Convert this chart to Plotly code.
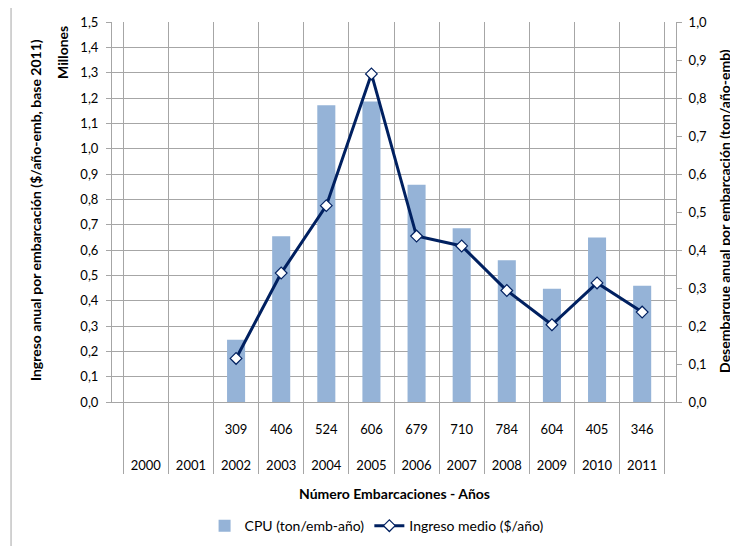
import plotly.graph_objects as go

# data
years = ["2000", "2001", "2002", "2003", "2004", "2005", "2006", "2007", "2008", "2009", "2010", "2011"]
boats = ["\u00a0", "\u00a0", "309", "406", "524", "606", "679", "710", "784", "604", "405", "346"]
cpu = [None, None, 0.164, 0.436, 0.781, 0.791, 0.572, 0.457, 0.373, 0.298, 0.433, 0.306]
ingreso = [None, None, 0.172, 0.509, 0.775, 1.295, 0.655, 0.616, 0.440, 0.305, 0.470, 0.355]

GRID = "#a6a6a6"
BAR = "#95b3d7"
LINE = "#002060"
FONT = "Lato"

# outer row sits lower than plotly's default spacing
year_labels = ["\u00a0<br>\u00a0<br>" + y for y in years]

fig = go.Figure()

# bars go on the base axis (drawn under the overlaid line)
fig.add_trace(go.Bar(
    x=[year_labels, boats], y=cpu, name="CPU (ton/emb-año)",
    marker=dict(color=BAR, line=dict(width=0)),
    yaxis="y", width=0.4,
))
fig.add_trace(go.Scatter(
    x=[year_labels, boats], y=ingreso, name="Ingreso medio ($/año)",
    mode="lines+markers", yaxis="y2",
    line=dict(color=LINE, width=3),
    marker=dict(symbol="diamond", size=9, color="white", line=dict(color=LINE, width=1.2)),
))

# page body adds an 8px offset, so the figure is 8px smaller than the window
fig.update_layout(
    width=730, height=538,
    margin=dict(l=104, r=62, t=14, b=144),
    paper_bgcolor="white", plot_bgcolor="white",
    font=dict(family=FONT, size=13, color="#000"),
    separators=",.",
    showlegend=True,
    legend=dict(orientation="h", x=0.47, xanchor="center", yref="container", y=0.037,
                yanchor="middle", font=dict(size=14), traceorder="normal", itemwidth=30),
    xaxis=dict(
        type="multicategory", tickson="boundaries", showgrid=True, gridcolor=GRID, gridwidth=1,
        showline=True, linecolor=GRID, ticks="", showdividers=True, dividercolor=GRID,
        dividerwidth=1, tickfont=dict(size=13), ticklabelstandoff=15, automargin=False,
    ),
    yaxis=dict(
        side="right", range=[0, 1.0], dtick=0.1, tickformat=".1f", showgrid=False,
        showline=True, linecolor=GRID, ticks="outside", ticklen=5, tickcolor=GRID,
        zeroline=False, tickfont=dict(size=13), ticklabelstandoff=4, automargin=False,
    ),
    yaxis2=dict(
        side="left", overlaying="y", range=[0, 1.5], dtick=0.1, tickformat=".1f",
        showgrid=True, gridcolor=GRID, gridwidth=1, showline=True, linecolor=GRID,
        ticks="outside", ticklen=5, tickcolor=GRID, zeroline=False, tickfont=dict(size=13),
        ticklabelstandoff=5, automargin=False,
    ),
)

fig.add_annotation(text="<b>Ingreso anual por embarcación ($/año-emb, base 2011)</b>",
                   xref="paper", yref="paper", x=-0.1365, y=0.505, textangle=-90,
                   showarrow=False, xanchor="center", yanchor="middle", font=dict(size=14))
fig.add_annotation(text="<b>Millones</b>", xref="paper", yref="paper", x=-0.0887, y=0.921,
                   textangle=-90, showarrow=False, xanchor="center", yanchor="middle",
                   font=dict(size=14))
fig.add_annotation(text="<b>Desembarque anual por embarcación (ton/año-emb)</b>",
                   xref="paper", yref="paper", x=1.087, y=0.503, textangle=-90,
                   showarrow=False, xanchor="center", yanchor="middle", font=dict(size=14))
fig.add_annotation(text="<b>Número Embarcaciones - Años</b>", xref="paper", yref="paper",
                   x=0.5, y=-0.2395, showarrow=False, xanchor="center", yanchor="middle",
                   font=dict(size=14))

# chart frame
fig.add_shape(type="rect", xref="paper", yref="paper", x0=-0.179, x1=1.2, y0=-0.5, y1=1.042,
              line=dict(color=GRID, width=1), fillcolor="rgba(0,0,0,0)", layer="below")

fig.write_html("out.html")
